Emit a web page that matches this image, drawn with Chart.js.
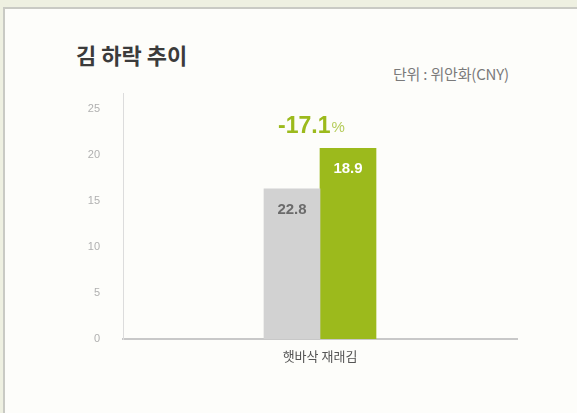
<!DOCTYPE html>
<html>
<head>
<meta charset="utf-8">
<script src="https://cdn.jsdelivr.net/npm/chart.js@4.4.1/dist/chart.umd.min.js"></script>
<style>
  body { margin: 0; background: #eef0e1; font-family: "Noto Sans CJK KR", "Noto Sans", sans-serif; }
  .panel { position: absolute; left: 3px; top: 7px; width: 574px; height: 406px;
           background: #fdfdfa; border-top: 2px solid #c9cac4; border-left: 2px solid #c9cac4; box-sizing: border-box; }
  .title { position: absolute; left: 76px; top: 38px; font-size: 22px; font-weight: 700; color: #3b3b3b; }
  .unit { position: absolute; left: 393px; top: 63px; font-size: 15px; color: #7a7a7a; letter-spacing: -0.2px; }
  canvas { position: absolute; left: 0; top: 0; }
</style>
</head>
<body>
<div class="panel"></div>
<div class="title">김 하락 추이</div>
<div class="unit">단위 : 위안화(CNY)</div>
<canvas id="chart" width="577" height="413"></canvas>
<script>
  // values as drawn (bar heights) and the labels printed on them
  const categories = ['햇바삭 재래김'];
  const seriesNames = ['이전', '현재'];
  const barHeights = [16.3, 20.7];
  const barLabels = ['22.8', '18.9'];
  const changeLabel = '-17.1';
  const yTicks = [0, 5, 10, 15, 20, 25];

  const barColors = ['#d2d2d2', '#9cba1c'];
  const labelColors = ['#6b6b6b', '#ffffff'];

  const datasets = seriesNames.map((name, i) => ({
    label: name,
    data: [barHeights[i]],
    backgroundColor: barColors[i],
    barThickness: 56
  }));

  const labelPlugin = {
    id: 'barLabels',
    afterDatasetsDraw(chart) {
      const ctx = chart.ctx;
      ctx.save();
      ctx.textAlign = 'center';
      ctx.textBaseline = 'middle';
      ctx.font = 'bold 15px "Liberation Sans", Arial, sans-serif';
      let greenBar = null;
      chart.data.datasets.forEach((ds, i) => {
        const bar = chart.getDatasetMeta(i).data[0];
        ctx.fillStyle = labelColors[i];
        ctx.fillText(barLabels[i], bar.x, bar.y + 21);
        if (i === 1) greenBar = bar;
      });
      // change label centered over the pair
      const b0 = chart.getDatasetMeta(0).data[0];
      const cx = (b0.x + greenBar.x) / 2 - 9;
      const y = greenBar.y - 22;
      ctx.font = 'bold 23px "Liberation Sans", Arial, sans-serif';
      const w1 = ctx.measureText(changeLabel).width;
      ctx.font = '15px "Liberation Sans", Arial, sans-serif';
      const w2 = ctx.measureText('%').width;
      const left = cx - (w1 + w2) / 2;
      ctx.textAlign = 'left';
      ctx.fillStyle = '#9cba1c';
      ctx.font = 'bold 23px "Liberation Sans", Arial, sans-serif';
      ctx.fillText(changeLabel, left, y);
      ctx.fillStyle = '#b5cc5a';
      ctx.font = '15px "Liberation Sans", Arial, sans-serif';
      ctx.fillText('%', left + w1 + 1, y + 2);
      ctx.restore();
    }
  };

  new Chart(document.getElementById('chart'), {
    type: 'bar',
    data: { labels: categories, datasets },
    options: {
      responsive: false,
      animation: false,
      layout: { padding: { left: 0, right: 60, top: 93, bottom: 0 } },
      plugins: { legend: { display: false }, tooltip: { enabled: false } },
      scales: {
        x: {
          grid: { display: false },
          border: { color: '#c8c8c8', width: 2 },
          ticks: { color: '#555', padding: 1, font: { size: 13, family: '"Noto Sans CJK KR", sans-serif' } },
          afterFit: s => { s.height = 74; }
        },
        y: {
          min: 0,
          max: 26.7,
          grid: { display: false },
          border: { color: '#dcdcdc', width: 1 },
          afterBuildTicks: s => { s.ticks = yTicks.map(v => ({ value: v })); },
          ticks: { color: '#b0b0b0', padding: 15, font: { size: 11, family: '"Liberation Sans", Arial, sans-serif' } },
          afterFit: s => { s.width = 123; }
        }
      }
    },
    plugins: [labelPlugin]
  });
</script>
</body>
</html>
